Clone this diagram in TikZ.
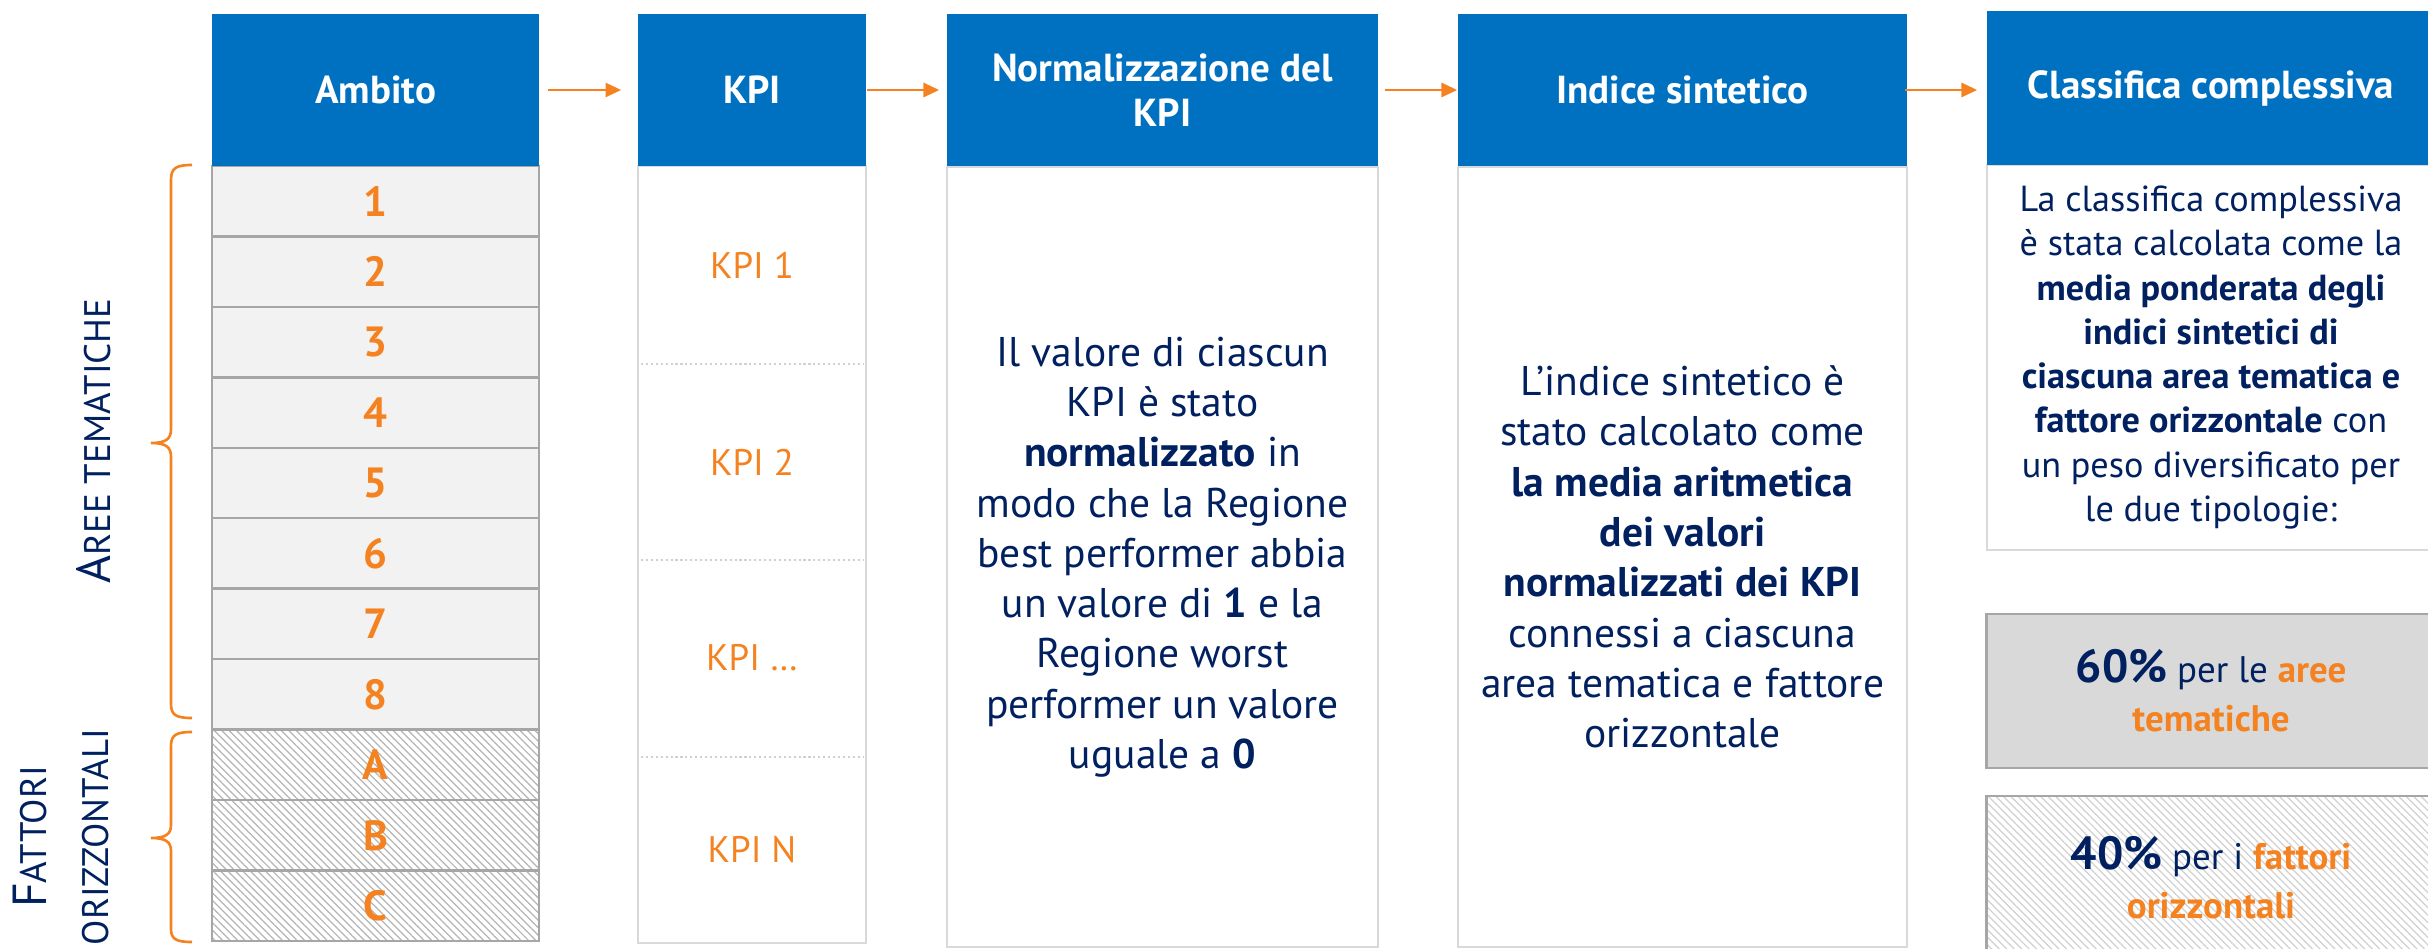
\documentclass[tikz,border=0pt]{standalone}
\usepackage{fontspec}
\setmainfont{PT Sans}
\usetikzlibrary{arrows.meta,patterns.meta}
\definecolor{hblue}{HTML}{0070C0}
\definecolor{orng}{HTML}{F58220}
\definecolor{navy}{HTML}{002060}
\definecolor{rowfill}{HTML}{F2F2F2}
\definecolor{rowline}{HTML}{A6A6A6}
\definecolor{boxline}{HTML}{D9D9D9}
\definecolor{boxfill}{HTML}{D9D9D9}
\definecolor{hatchc}{HTML}{B4B4B4}
\definecolor{sepc}{HTML}{D0D0D0}
\begin{document}
\begin{tikzpicture}[x=0.01cm,y=-0.01cm,
  hdr/.style={fill=hblue,draw=none,text=white,inner sep=0pt,align=center,
    minimum height=1.52cm,font=\bfseries\fontsize{11.1}{12.8}\selectfont},
  rowbox/.style={draw=rowline,line width=0.7pt,fill=rowfill,inner sep=0pt,
    minimum width=3.27cm,minimum height=0.7045cm,text=orng,font=\bfseries\fontsize{12}{12}\selectfont},
  hatchbox/.style={rowbox,fill=white,pattern={Lines[angle=-45,distance=1.5pt,line width=0.35pt]},pattern color=hatchc},
  bodybox/.style={draw=boxline,line width=0.6pt,fill=white,inner sep=0pt,align=center,text=navy,
    font=\fontsize{11.8}{14.3}\selectfont},
  kpilab/.style={text=orng,inner sep=0pt,font=\fontsize{10.5}{12}\selectfont},
  sepline/.style={draw=sepc,line width=0.6pt,dash pattern=on 0.6pt off 0.8pt},
  arr/.style={draw=orng,line width=0.77pt,-{Triangle[length=0.157cm,width=0.14cm]}},
  brc/.style={draw=orng,line width=0.75pt},
  rot/.style={rotate=90,text=navy,inner sep=0pt,align=center},
  ]
\useasboundingbox (0,0) rectangle (2428,949);

% ---- Ambito column
\foreach \n/\lab [count=\i] in {r1/1,r2/2,r3/3,r4/4,r5/5,r6/6,r7/7,r8/8}{
  \node[rowbox] (\n) at (375.5,{166+70.45*(\i-0.5)}) {\lab};
}
\foreach \n/\lab [count=\i from 9] in {rA/A,rB/B,rC/C}{
  \node[hatchbox] (\n) at (375.5,{166+70.45*(\i-0.5)}) {\lab};
}

% ---- bodies
\node[bodybox,minimum width=2.28cm,minimum height=7.77cm] (kpib) at (752,554.5) {};
\node[kpilab] (k1) at (752,265) {KPI 1};
\node[kpilab] (k2) at (752,462) {KPI 2};
\node[kpilab] (k3) at (752,658) {KPI \dots};
\node[kpilab] (k4) at (752,850) {KPI N};
\draw[sepline] (641,364) -- (863,364);
\draw[sepline] (641,560) -- (863,560);
\draw[sepline] (641,757) -- (863,757);

\node[bodybox,minimum width=4.31cm,minimum height=7.79cm] (normb) at (1162.5,557)
 {Il valore di ciascun\\KPI è stato\\\textbf{normalizzato} in\\modo che la Regione\\best performer abbia\\un valore di \textbf{1} e la\\Regione worst\\performer un valore\\uguale a \textbf{0}};

\node[bodybox,minimum width=4.49cm,minimum height=7.79cm] (indb) at (1682.5,557)
 {L’indice sintetico è\\stato calcolato come\\\textbf{la media aritmetica}\\\textbf{dei valori}\\\textbf{normalizzati dei KPI}\\connessi a ciascuna\\area tematica e fattore\\orizzontale};

\node[bodybox,minimum width=4.48cm,minimum height=3.85cm,font=\fontsize{10.3}{12.6}\selectfont] (clab) at (2211,357.5)
 {La classifica complessiva\\è stata calcolata come la\\\textbf{media ponderata degli}\\\textbf{indici sintetici di}\\\textbf{ciascuna area tematica e}\\\textbf{fattore orizzontale} con\\un peso diversificato per\\le due tipologie:};

\node[bodybox,draw=rowline,line width=0.8pt,fill=boxfill,minimum width=4.48cm,minimum height=1.54cm,font=\fontsize{10.5}{14}\selectfont] (p60) at (2211,691)
 {{\bfseries\fontsize{13.2}{14}\selectfont 60\%} per le \textcolor{orng}{\bfseries aree}\\\textcolor{orng}{\bfseries tematiche}};

\node[bodybox,draw=rowline,line width=0.8pt,pattern={Lines[angle=-45,distance=1.5pt,line width=0.35pt]},pattern color=sepc,minimum width=4.48cm,minimum height=1.64cm,font=\fontsize{10.5}{14}\selectfont] (p40) at (2211,878)
 {{\bfseries\fontsize{13.2}{14}\selectfont 40\%} per i \textcolor{orng}{\bfseries fattori}\\\textcolor{orng}{\bfseries orizzontali}};

% ---- headers
\node[hdr,minimum width=3.27cm] (amb) at (375.5,90) {Ambito};
\node[hdr,minimum width=2.28cm] (kpi) at (752,90) {KPI};
\node[hdr,minimum width=4.31cm] (norm) at (1162.5,90) {Normalizzazione del\\KPI};
\node[hdr,minimum width=4.49cm] (ind) at (1682.5,90) {Indice sintetico};
\node[hdr,minimum width=4.48cm,minimum height=1.54cm] (cla) at (2211,88) {Classifica complessiva};

% ---- arrows
\draw[arr] ([xshift=0.08cm]amb.east) -- ([xshift=-0.16cm]kpi.west);
\draw[arr] (kpi.east) -- ([xshift=-0.07cm]norm.west);
\draw[arr] ([xshift=0.06cm]norm.east) -- (ind.west);
\draw[arr] ([xshift=-0.03cm]ind.east) -- ([xshift=-0.09cm]ind.east -| cla.west);

% ---- braces
\draw[brc] (192,165) .. controls (176,165) and (171,168) .. (171,180) -- (171,429)
  .. controls (171,439) and (166,443) .. (151,443)
  .. controls (166,443) and (171,447) .. (171,457) -- (171,704)
  .. controls (171,715) and (176,718) .. (192,718);
\draw[brc] (192,732) .. controls (176,732) and (171,735) .. (171,746) -- (171,825)
  .. controls (171,834) and (166,838) .. (151,838)
  .. controls (166,838) and (171,842) .. (171,851) -- (171,929)
  .. controls (171,939) and (176,942) .. (192,942);

% ---- side labels
\node[rot] (aree) at (94,441) {\fontsize{13.6}{14}\selectfont A\fontsize{10.5}{14}\selectfont REE TEMATICHE};
\node[rot,font=\fontsize{10.5}{17.4}\selectfont] (fatt) at (61,837) {{\fontsize{13.6}{17.4}\selectfont F}ATTORI\\ORIZZONTALI};
\end{tikzpicture}
\end{document}
